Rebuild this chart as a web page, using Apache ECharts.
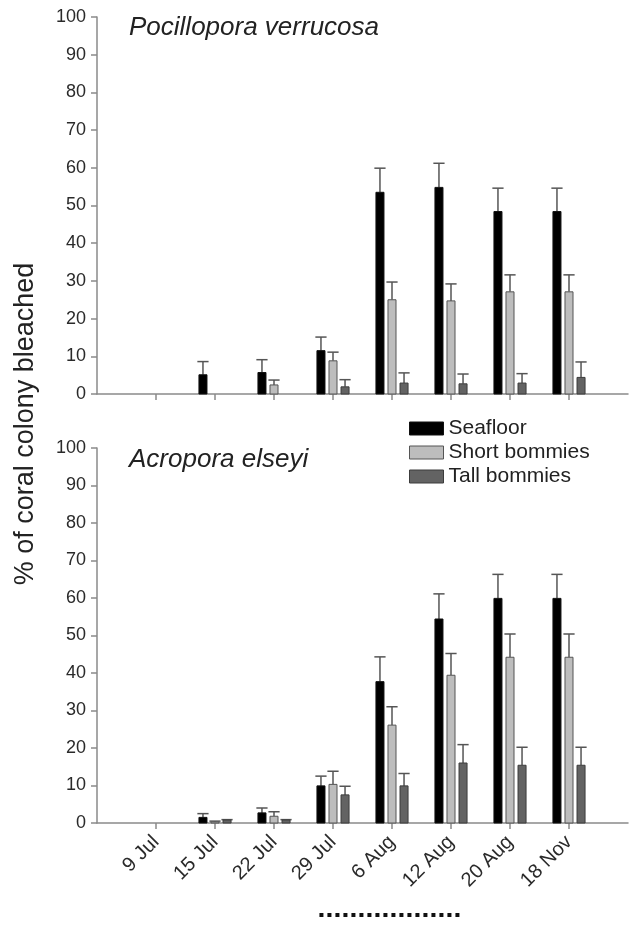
<!DOCTYPE html>
<html lang="en">
<head>
<meta charset="UTF-8">
<title>Coral bleaching</title>
<script src="https://cdn.jsdelivr.net/npm/echarts@6/dist/echarts.min.js"></script>
<style>
    html, body { margin: 0; padding: 0; background: #fff; }
    #main { width: 629px; height: 926px; }
</style>
</head>
<body>
<div id="main"></div>
<script>
// sampling dates
var dates = ['9 Jul', '15 Jul', '22 Jul', '29 Jul', '6 Aug', '12 Aug', '20 Aug', '18 Nov'];
var yTicks = [0, 100, 10];

// Pocillopora verrucosa (top panel): mean % bleached and upper error
var pvSeafloor = [0, 5.1, 5.7, 11.5, 53.5, 54.8, 48.4, 48.4];
var pvSeafloorErr = [0, 3.5, 3.4, 3.6, 6.4, 6.4, 6.2, 6.2];
var pvShort = [0, 0, 2.4, 8.8, 25.0, 24.7, 27.1, 27.1];
var pvShortErr = [0, 0, 1.3, 2.3, 4.7, 4.5, 4.5, 4.5];
var pvTall = [0, 0, 0, 1.9, 2.9, 2.7, 2.9, 4.4];
var pvTallErr = [0, 0, 0, 1.9, 2.7, 2.6, 2.5, 4.1];

// Acropora elseyi (bottom panel)
var aeSeafloor = [0, 1.5, 2.7, 9.9, 37.7, 54.4, 59.9, 59.9];
var aeSeafloorErr = [0, 1.0, 1.3, 2.6, 6.6, 6.7, 6.4, 6.4];
var aeShort = [0, 0.3, 1.8, 10.3, 26.1, 39.4, 44.2, 44.2];
var aeShortErr = [0, 0.2, 1.2, 3.5, 4.9, 5.8, 6.2, 6.2];
var aeTall = [0, 0.8, 0.8, 7.5, 9.9, 16.0, 15.4, 15.4];
var aeTallErr = [0, 0.1, 0.1, 2.3, 3.3, 4.9, 4.8, 4.8];

// span of the dotted bar under the dates (in category units)
var dotSpan = [3.77, 6.18];

var FONT = '"Liberation Sans", Arial, sans-serif';
var colors = {
    Seafloor: { fill: '#000000', stroke: '#111111' },
    'Short bommies': { fill: '#bdbdbd', stroke: '#555555' },
    'Tall bommies': { fill: '#636363', stroke: '#3c3c3c' }
};

var myChart = echarts.init(document.getElementById('main'));

function toData(vals, errs) {
    var out = [];
    for (var i = 0; i < dates.length; i++) {
        out.push([i + 1, vals[i], errs[i]]);
    }
    return out;
}

// bar + upward error bar, slot -1/0/1 inside the group
function barRender(slot, c) {
    return function (params, api) {
        var x = api.value(0), v = api.value(1), e = api.value(2);
        if (!v && !e) return null;
        var band = api.size([1, 0])[0];
        var base = api.coord([x, 0]);
        var cx = base[0] + slot * band * 0.204;
        var yTop = api.coord([x, v])[1];
        var yErr = api.coord([x, v + e])[1];
        var w = band * 0.136, cap = band * 0.19;
        return {
            type: 'group',
            children: [
                { type: 'line', shape: { x1: cx, y1: yTop, x2: cx, y2: yErr }, style: { stroke: '#555', lineWidth: 1.5 } },
                { type: 'line', shape: { x1: cx - cap / 2, y1: yErr, x2: cx + cap / 2, y2: yErr }, style: { stroke: '#555', lineWidth: 1.5 } },
                { type: 'rect', shape: { x: cx - w / 2, y: yTop, width: w, height: base[1] - yTop }, style: { fill: c.fill, stroke: c.stroke, lineWidth: 1 } }
            ]
        };
    };
}

function makeSeries(name, slot, idx, vals, errs) {
    return {
        name: name,
        type: 'custom',
        xAxisIndex: idx,
        yAxisIndex: idx,
        itemStyle: { color: colors[name].fill, borderColor: colors[name].stroke, borderWidth: 1 },
        renderItem: barRender(slot, colors[name]),
        data: toData(vals, errs)
    };
}

function xAxisCfg(idx, showLabels) {
    return {
        type: 'value', gridIndex: idx, min: 0, max: 9, interval: 1,
        splitLine: { show: false },
        axisLine: { lineStyle: { color: '#8a8a8a', width: 1.5 } },
        axisTick: { show: true, length: 6, customValues: [1, 2, 3, 4, 5, 6, 7, 8], lineStyle: { color: '#8a8a8a', width: 1.5 } },
        axisLabel: {
            show: showLabels,
            customValues: [1, 2, 3, 4, 5, 6, 7, 8],
            formatter: function (v) { return dates[v - 1] || ''; },
            rotate: 45, margin: 16, fontSize: 20, color: '#2a2a2a', fontFamily: FONT
        }
    };
}

function yAxisCfg(idx) {
    return {
        type: 'value', gridIndex: idx, min: yTicks[0], max: yTicks[1], interval: yTicks[2],
        splitLine: { show: false },
        axisLine: { show: true, lineStyle: { color: '#8a8a8a', width: 1.5 } },
        axisTick: { show: true, length: 6, lineStyle: { color: '#8a8a8a', width: 1.5 } },
        axisLabel: { fontSize: 18, color: '#2a2a2a', margin: 11, fontFamily: FONT }
    };
}

var option = {
    animation: false,
    backgroundColor: '#fff',
    title: [
        { text: 'Pocillopora verrucosa', left: 129, top: 15, padding: 0,
          textStyle: { fontSize: 26, fontStyle: 'italic', fontWeight: 'normal', color: '#222', fontFamily: FONT } },
        { text: 'Acropora elseyi', left: 129, top: 447, padding: 0,
          textStyle: { fontSize: 26, fontStyle: 'italic', fontWeight: 'normal', color: '#222', fontFamily: FONT } }
    ],
    legend: {
        orient: 'vertical', left: 409, top: 418, padding: 0,
        itemWidth: 34, itemHeight: 13, itemGap: 3, icon: 'rect',
        textStyle: { fontSize: 21, color: '#222', fontFamily: FONT, padding: [0, 0, 0, 0] },
        data: [
            { name: 'Seafloor', itemStyle: { color: '#000', borderColor: '#111', borderWidth: 1 } },
            { name: 'Short bommies', itemStyle: { color: '#bdbdbd', borderColor: '#555', borderWidth: 1 } },
            { name: 'Tall bommies', itemStyle: { color: '#636363', borderColor: '#3c3c3c', borderWidth: 1 } }
        ]
    },
    grid: [
        { left: 97, right: 1, top: 17, height: 377 },
        { left: 97, right: 1, top: 448, height: 375 }
    ],
    xAxis: [xAxisCfg(0, false), xAxisCfg(1, true)],
    yAxis: [yAxisCfg(0), yAxisCfg(1)],
    series: [
        makeSeries('Seafloor', -1, 0, pvSeafloor, pvSeafloorErr),
        makeSeries('Short bommies', 0, 0, pvShort, pvShortErr),
        makeSeries('Tall bommies', 1, 0, pvTall, pvTallErr),
        makeSeries('Seafloor', -1, 1, aeSeafloor, aeSeafloorErr),
        makeSeries('Short bommies', 0, 1, aeShort, aeShortErr),
        makeSeries('Tall bommies', 1, 1, aeTall, aeTallErr)
    ]
};
myChart.setOption(option);

// shared y-axis name and the dotted bar below the dates
var dx0 = myChart.convertToPixel({ xAxisIndex: 1 }, dotSpan[0]);
var dx1 = myChart.convertToPixel({ xAxisIndex: 1 }, dotSpan[1]);
myChart.setOption({
    graphic: [
        { type: 'text', x: 26, y: 424, rotation: Math.PI / 2,
          style: { text: '% of coral colony bleached', fontSize: 27, fontFamily: FONT, fill: '#222', align: 'center', verticalAlign: 'middle' } },
        { type: 'line', shape: { x1: dx0, y1: 915, x2: dx1, y2: 915 },
          style: { stroke: '#111', lineWidth: 4, lineDash: [4, 4] } }
    ]
});
</script>
</body>
</html>
